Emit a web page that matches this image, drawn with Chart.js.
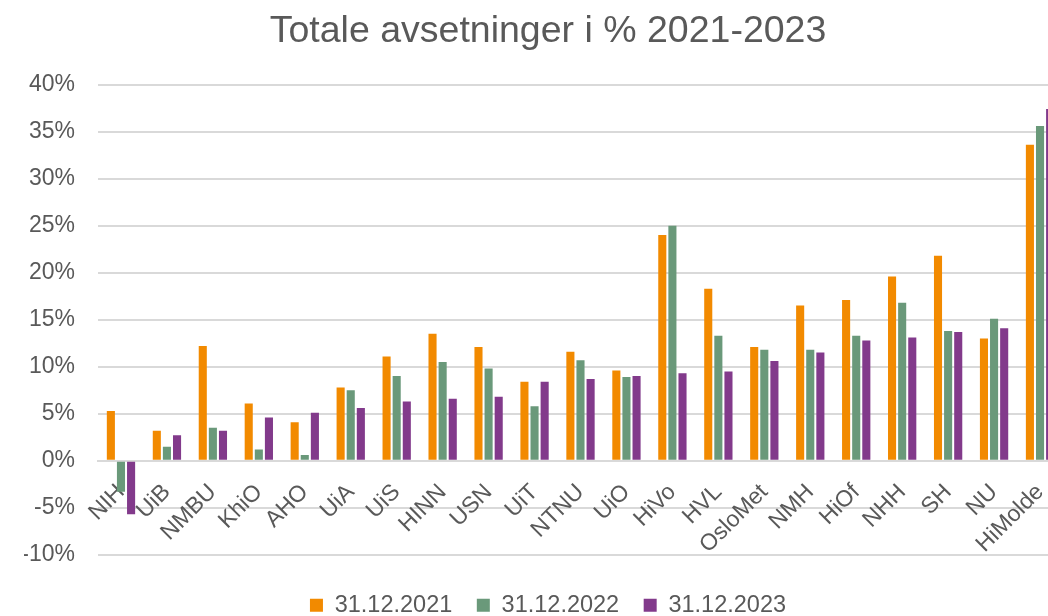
<!DOCTYPE html>
<html>
<head>
<meta charset="utf-8">
<script src="https://cdn.jsdelivr.net/npm/chart.js@4.4.1/dist/chart.umd.min.js"></script>
<style>
  html, body { margin: 0; padding: 0; background: #fff; overflow: hidden; }
</style>
</head>
<body>
<canvas id="chart" width="1096" height="627"></canvas>
<script>
const schools = ['NIH', 'UiB', 'NMBU', 'KhiO', 'AHO', 'UiA', 'UiS', 'HINN', 'USN', 'UiT', 'NTNU', 'UiO', 'HiVo', 'HVL', 'OsloMet', 'NMH', 'HiOf', 'NHH', 'SH', 'NU', 'HiMolde'];
const seriesNames = ['31.12.2021', '31.12.2022', '31.12.2023'];
const vals2021 = [5.3, 3.2, 12.2, 6.1, 4.1, 7.8, 11.1, 13.5, 12.1, 8.4, 11.6, 9.6, 24.0, 18.3, 12.1, 16.5, 17.1, 19.6, 21.8, 13.0, 33.6];
const vals2022 = [-3.3, 1.5, 3.5, 1.2, 0.6, 7.5, 9.0, 10.5, 9.8, 5.8, 10.7, 8.9, 25.0, 13.3, 11.8, 11.8, 13.3, 16.8, 13.8, 15.1, 35.6];
const vals2023 = [-5.7, 2.7, 3.2, 4.6, 5.1, 5.6, 6.3, 6.6, 6.8, 8.4, 8.7, 9.0, 9.3, 9.5, 10.6, 11.5, 12.8, 13.1, 13.7, 14.1, 37.4];
const colors = ['#F28A00', '#6A997A', '#823A8B'];

const txt = '#595959';
const fam = '"Liberation Sans", Arial, sans-serif';

function ds(i, data) {
    return { label: seriesNames[i], data: data, backgroundColor: colors[i], borderWidth: 0, categoryPercentage: 0.66, barPercentage: 0.8 };
}

const ctx = document.getElementById('chart').getContext('2d');
new Chart(ctx, {
    type: 'bar',
    data: { labels: schools, datasets: [ds(0, vals2021), ds(1, vals2022), ds(2, vals2023)] },
    options: {
        responsive: false,
        animation: false,
        layout: { padding: { left: 24, right: 24, top: 0, bottom: 0 } },
        plugins: {
            title: { display: true, text: 'Totale avsetninger i % 2021-2023', color: txt, font: { family: fam, size: 37.5, weight: 'normal' }, padding: { top: 9, bottom: 30.6 } },
            legend: {
                position: 'bottom',
                title: { display: true, text: ' ', font: { size: 1 }, padding: { top: 13, bottom: 0 } },
                labels: { boxWidth: 13, boxHeight: 13, padding: 24.5, color: txt, font: { family: fam, size: 23.5 } }
            },
            tooltip: { enabled: false }
        },
        scales: {
            x: {
                position: { y: 0 },
                grid: { display: false, drawTicks: false },
                border: { display: true, color: '#D9D9D9', width: 2 },
                ticks: { color: txt, font: { family: fam, size: 23 }, minRotation: 45, maxRotation: 45, autoSkip: false, padding: 18 },
                // right room covers the layout padding plus the part of the plot cut off by the window
                afterFit: s => { s.paddingLeft = 0; s.paddingRight = 33; }
            },
            y: {
                min: -10, max: 40,
                grid: { color: '#D9D9D9', lineWidth: 2, drawTicks: false },
                border: { display: false },
                ticks: { stepSize: 5, color: txt, padding: 23, font: { family: fam, size: 23 }, callback: v => v + '%' },
                afterFit: s => { s.width = 74; }
            }
        }
    }
});
</script>
</body>
</html>
